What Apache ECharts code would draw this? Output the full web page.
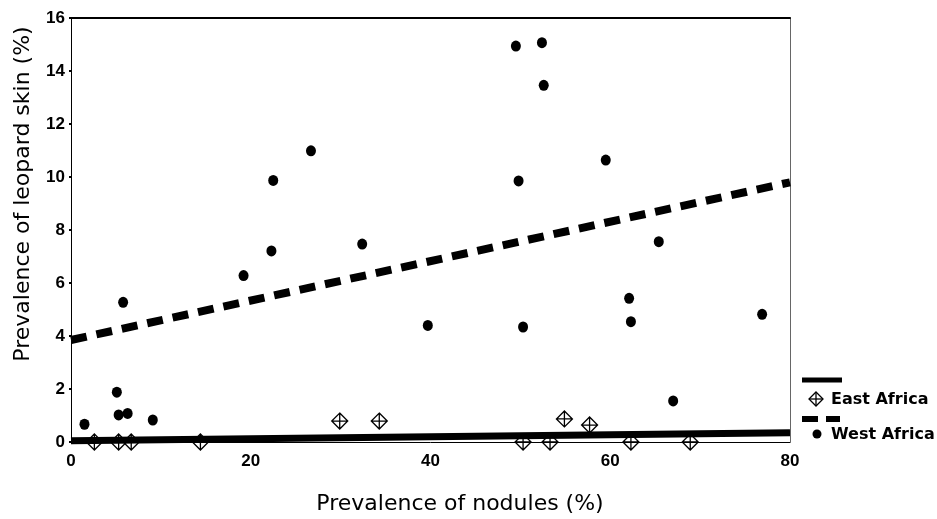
<!DOCTYPE html>
<html>
<head>
<meta charset="utf-8">
<script src="https://cdn.jsdelivr.net/npm/echarts@6/dist/echarts.min.js"></script>
<style>html,body{margin:0;padding:0;background:#fff;}#c{width:937px;height:519px;}</style>
</head>
<body>
<div id="c"></div>
<script>
// West Africa observations [nodules %, leopard skin %]
var westX = [1.5, 5.1, 5.3, 6.3, 9.1, 5.8, 19.2, 22.3, 22.5, 26.7, 32.4, 39.7, 49.5, 52.4, 52.6, 49.8, 50.3, 59.5, 62.1, 62.3, 65.4, 67.0, 76.9];
var westY = [0.67, 1.88, 1.02, 1.08, 0.83, 5.27, 6.28, 7.21, 9.87, 10.99, 7.47, 4.4, 14.94, 15.07, 13.46, 9.85, 4.34, 10.64, 5.42, 4.54, 7.56, 1.55, 4.82];
// East Africa observations
var eastX = [2.6, 5.3, 6.7, 14.4, 29.9, 34.3, 50.3, 53.3, 54.9, 57.7, 62.3, 68.9];
var eastY = [0, 0, 0, 0, 0.79, 0.79, 0, 0, 0.87, 0.64, 0, 0];
// Regression lines (endpoints)
var westFitX = [0, 80];
var westFitY = [3.85, 9.8];
var eastFitX = [0, 80];
var eastFitY = [0.05, 0.35];
// Axis ticks
var xTicks = [0, 20, 40, 60, 80];
var yTicks = [0, 2, 4, 6, 8, 10, 12, 14, 16];

function pairs(xs, ys) { return xs.map(function (x, i) { return [x, ys[i]]; }); }

var diamondPath = 'path://M10,0 L20,10 L10,20 L0,10 Z M0,10 L20,10 M10,0 L10,20';
var tickFont = { fontFamily: 'Liberation Sans', fontWeight: 'bold', fontSize: 17, color: '#000' };

var chart = echarts.init(document.getElementById('c'), null, { renderer: 'canvas' });
chart.setOption({
  animation: false,
  backgroundColor: '#fff',
  grid: { left: 71, right: 147, top: 18, bottom: 77, containLabel: false },
  xAxis: [{
    type: 'value', min: xTicks[0], max: xTicks[xTicks.length - 1], interval: 20,
    axisLine: { show: true, onZero: false, lineStyle: { color: '#000', width: 1 } },
    axisTick: { show: false },
    splitLine: { show: false },
    axisLabel: Object.assign({ margin: 11 }, tickFont)
  }, {
    type: 'value', position: 'top', min: 0, max: 80,
    axisLine: { show: true, onZero: false, lineStyle: { color: '#000', width: 2 } },
    axisTick: { show: false }, axisLabel: { show: false }, splitLine: { show: false }
  }],
  yAxis: [{
    type: 'value', min: yTicks[0], max: yTicks[yTicks.length - 1], interval: 2,
    axisLine: { show: true, onZero: false, lineStyle: { color: '#000', width: 1 } },
    axisTick: { show: true, length: 2, lineStyle: { color: '#000', width: 2 } },
    splitLine: { show: false },
    axisLabel: Object.assign({ margin: 6 }, tickFont)
  }, {
    type: 'value', position: 'right', min: 0, max: 16,
    axisLine: { show: true, onZero: false, lineStyle: { color: '#666', width: 1 } },
    axisTick: { show: false }, axisLabel: { show: false }, splitLine: { show: false }
  }],
  series: [
    {
      name: 'East Africa fit', type: 'line', data: pairs(eastFitX, eastFitY),
      symbol: 'none', lineStyle: { color: '#000', width: 7, cap: 'butt', opacity: 1 }, z: 2
    },
    {
      name: 'West Africa fit', type: 'line', data: pairs(westFitX, westFitY),
      symbol: 'none', lineStyle: { color: '#000', width: 8, type: [16, 10], cap: 'butt', opacity: 1 }, z: 2
    },
    {
      name: 'East Africa', type: 'scatter', data: pairs(eastX, eastY),
      symbol: diamondPath, symbolSize: 16, clip: false,
      itemStyle: { color: 'rgba(255,255,255,0)', borderColor: '#000', borderWidth: 1.3, opacity: 1 }, z: 3
    },
    {
      name: 'West Africa', type: 'scatter', data: pairs(westX, westY),
      symbol: 'circle', symbolSize: [10, 11], clip: false,
      itemStyle: { color: '#000', opacity: 1 }, z: 4
    }
  ],
  graphic: [
    { type: 'text', x: 23, y: 194, rotation: Math.PI / 2,
      style: { text: 'Prevalence of leopard skin (%)', fontFamily: 'DejaVu Sans', fontSize: 22, fill: '#000', align: 'center', verticalAlign: 'middle' } },
    { type: 'text', x: 460, y: 504,
      style: { text: 'Prevalence of nodules (%)', fontFamily: 'DejaVu Sans', fontSize: 22, fill: '#000', align: 'center', verticalAlign: 'middle' } },
    // legend: East Africa
    { type: 'line', shape: { x1: 802, y1: 380, x2: 842, y2: 380 }, style: { stroke: '#000', lineWidth: 5 } },
    { type: 'polygon', shape: { points: [[816, 392], [823, 399], [816, 406], [809, 399]] }, style: { fill: '#fff', stroke: '#000', lineWidth: 1.3 } },
    { type: 'line', shape: { x1: 809, y1: 399, x2: 823, y2: 399 }, style: { stroke: '#000', lineWidth: 1.3 } },
    { type: 'line', shape: { x1: 816, y1: 392, x2: 816, y2: 406 }, style: { stroke: '#000', lineWidth: 1.3 } },
    { type: 'text', x: 831, y: 400,
      style: { text: 'East Africa', fontFamily: 'DejaVu Sans', fontWeight: 'bold', fontSize: 16, fill: '#000', align: 'left', verticalAlign: 'middle' } },
    // legend: West Africa
    { type: 'rect', shape: { x: 802, y: 416, width: 16, height: 6 }, style: { fill: '#000' } },
    { type: 'rect', shape: { x: 826, y: 416, width: 14, height: 6 }, style: { fill: '#000' } },
    { type: 'circle', shape: { cx: 817, cy: 434, r: 4.5 }, style: { fill: '#000' } },
    { type: 'text', x: 831, y: 435,
      style: { text: 'West Africa', fontFamily: 'DejaVu Sans', fontWeight: 'bold', fontSize: 16, fill: '#000', align: 'left', verticalAlign: 'middle' } }
  ]
});
</script>
</body>
</html>
